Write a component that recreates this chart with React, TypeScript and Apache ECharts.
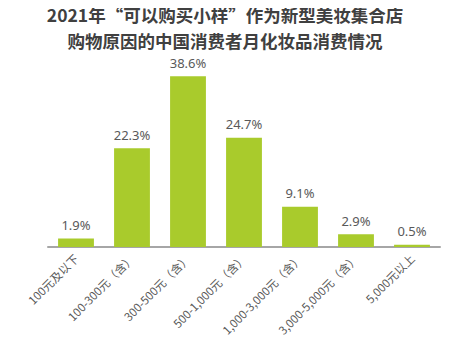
import React, { useEffect, useRef } from "react";
import * as echarts from "echarts";

const titleLines = ["2021年“可以购买小样”作为新型美妆集合店", "购物原因的中国消费者月化妆品消费情况"];
const categories = ["100元及以下", "100-300元（含）", "300-500元（含）", "500-1,000元（含）", "1,000-3,000元（含）", "3,000-5,000元（含）", "5,000元以上"];
const values = [1.9, 22.3, 38.6, 24.7, 9.1, 2.9, 0.5];

export default function App() {
  const ref = useRef<HTMLDivElement>(null);
  useEffect(() => {
    const chart = echarts.init(ref.current!, null, { renderer: "svg" });
    const titleStyle = { fontSize: 17.5, fontWeight: "bold", color: "#404040", fontFamily: "Noto Sans CJK SC", lineHeight: 18 };
    chart.setOption({
      animation: false,
      title: [
        { text: titleLines[0], left: "center", top: 5, padding: 0, textStyle: titleStyle },
        { text: titleLines[1], left: "center", top: 31, padding: 0, textStyle: titleStyle },
      ],
      grid: { left: 48, right: 10, top: 70, bottom: 104 },
      xAxis: {
        type: "category",
        data: categories,
        axisLine: { lineStyle: { color: "#a6a6a6", width: 2 } },
        axisTick: { show: false },
        axisLabel: { rotate: 45, color: "#595959", fontSize: 11.5, interval: 0, margin: 9, fontFamily: "Noto Sans CJK SC" },
      },
      yAxis: { type: "value", min: 0, max: 40, show: false, splitLine: { show: false } },
      series: [
        {
          type: "bar",
          data: values,
          barWidth: "64%",
          itemStyle: { color: "#a9cb2c" },
          label: {
            show: true,
            position: "top",
            distance: 7,
            formatter: (p: any) => p.value.toFixed(1) + "%",
            color: "#595959",
            fontSize: 13,
            fontFamily: "Noto Sans",
          },
        },
      ],
    });
    return () => chart.dispose();
  }, []);
  return <div ref={ref} style={{ width: 450, height: 351, margin: -8 }} />;
}
